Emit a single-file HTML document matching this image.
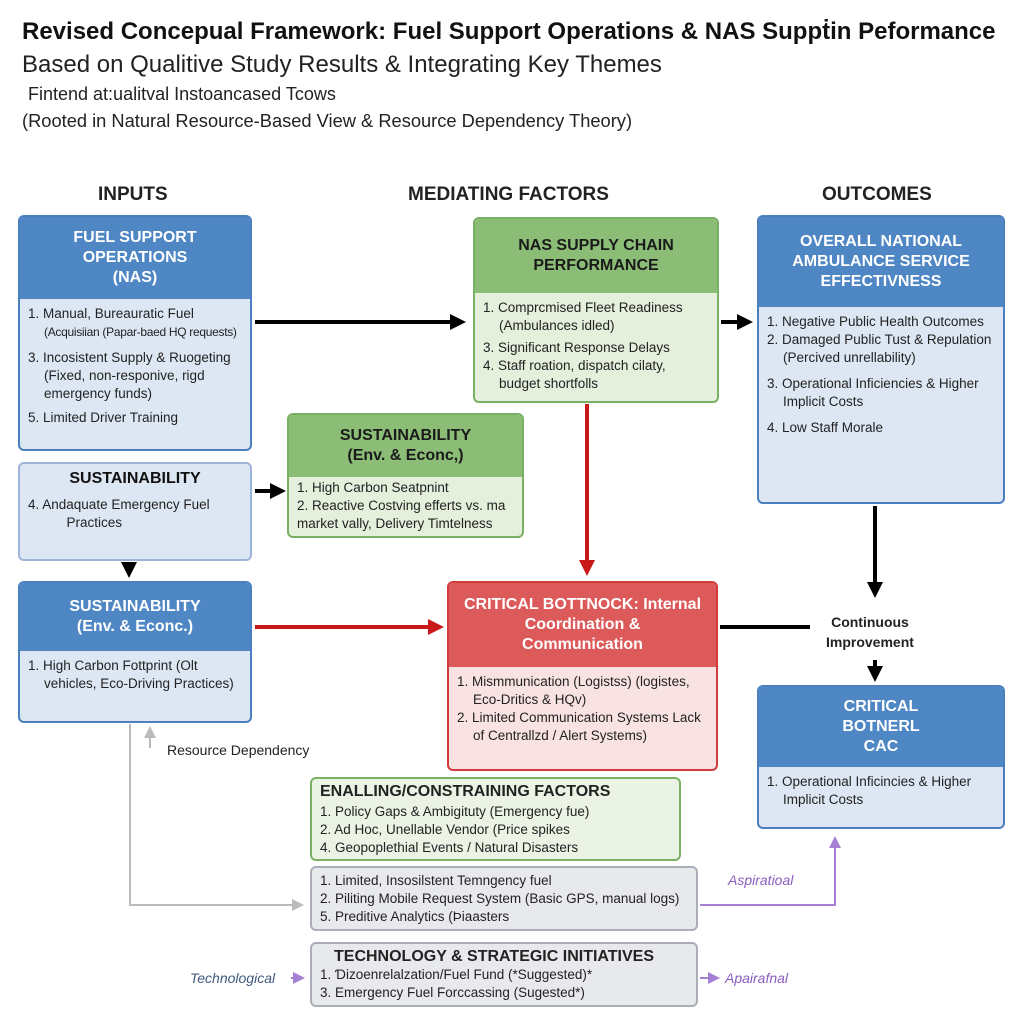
<!DOCTYPE html>
<html><head><meta charset="utf-8"><style>
*{box-sizing:border-box;margin:0;padding:0}
body{width:1024px;height:1024px;background:#fff;position:relative;overflow:hidden;font-family:"Liberation Sans",sans-serif;color:#222}
.a{position:absolute}
.box{position:absolute;border-radius:6px;overflow:hidden;border:2px solid #4a7fc0;background:#dde7f4}
.hd{text-align:center;font-weight:bold;font-size:16px;line-height:20px;display:flex;align-items:center;justify-content:center;flex-direction:column}
.blue .hd{background:#4f86c4;color:#fff}
.bd{font-size:13.5px;line-height:18px;padding:6px 8px}
.bd p{padding-left:16px;text-indent:-16px}
.green{border-color:#7ab063;background:#e4efdc}
.green .hd{background:#8cbd77;color:#1a1a1a}
.red{border-color:#d33c3c;background:#f9e2e2}
.red .hd{background:#dc5a5a;color:#fff}
.gray{border-color:#a9aeb8;background:#e8e9ed}
.col{font-weight:bold;font-size:19px}
</style></head><body>
<div class="a" style="left:22px;top:18px;font-size:24px;font-weight:bold;color:#111;white-space:nowrap">Revised Concepual Framework: Fuel Support Operations &amp; NAS Suppṫin Peformance</div>
<div class="a" style="left:22px;top:51px;font-size:24px;white-space:nowrap">Based on Qualitive Study Results &amp; Integrating Key Themes</div>
<div class="a" style="left:28px;top:84px;font-size:18px;white-space:nowrap">Fintend at:ualitval Instoancased Tcows</div>
<div class="a" style="left:22px;top:110px;font-size:18.3px;white-space:nowrap">(Rooted in Natural Resource-Based View &amp; Resource Dependency Theory)</div>

<div class="a col" style="left:98px;top:184px">INPUTS</div>
<div class="a col" style="left:408px;top:184px">MEDIATING FACTORS</div>
<div class="a col" style="left:822px;top:184px">OUTCOMES</div>

<div class="box blue" style="left:18px;top:215px;width:234px;height:236px">
<div class="hd" style="height:82px">FUEL SUPPORT<br>OPERATIONS<br>(NAS)</div>
<div class="bd"><p>1. Manual, Bureauratic Fuel<br><span style="font-size:12px;white-space:nowrap;letter-spacing:-0.3px">(Acquisiian (Papar-baed HQ requests)</span></p><p style="margin-top:8px">3. Incosistent Supply &amp; Ruogeting (Fixed, non-responive, rigd emergency funds)</p><p style="margin-top:6px">5. Limited Driver Training</p></div></div>

<div class="box" style="left:18px;top:462px;width:234px;height:99px;border-color:#9fb5d8">
<div class="hd" style="height:30px;color:#111">SUSTAINABILITY</div>
<div class="bd" style="padding-top:2px"><p>4. Andaquate Emergency Fuel<br>&nbsp;&nbsp;&nbsp;&nbsp;&nbsp;&nbsp;Practices</p></div></div>

<div class="box blue" style="left:18px;top:581px;width:234px;height:142px">
<div class="hd" style="height:68px">SUSTAINABILITY<br>(Env. &amp; Econc.)</div>
<div class="bd"><p>1. High Carbon Fottprint (Olt vehicles, Eco-Driving Practices)</p></div></div>

<div class="box green" style="left:473px;top:217px;width:246px;height:186px">
<div class="hd" style="height:74px">NAS SUPPLY CHAIN<br>PERFORMANCE</div>
<div class="bd"><p>1. Comprcmised Fleet Readiness (Ambulances idled)</p><p style="margin-top:4px">3. Significant Response Delays</p><p>4. Staff roation, dispatch cilaty, budget shortfolls</p></div></div>

<div class="box green" style="left:287px;top:413px;width:237px;height:125px">
<div class="hd" style="height:62px">SUSTAINABILITY<br>(Env. &amp; Econc,)</div>
<div class="bd" style="padding-top:2px"><p style="text-indent:0;padding-left:0">1. High Carbon Seatpnint<br>2. Reactive Costving efferts vs. ma market vally, Delivery Timtelness</p></div></div>

<div class="box red" style="left:447px;top:581px;width:271px;height:190px">
<div class="hd" style="height:84px">CRITICAL BOTTNOCK: Internal<br>Coordination &amp;<br>Communication</div>
<div class="bd"><p>1. Mismmunication (Logistss) (logistes, Eco-Dritics &amp; HQv)</p><p>2. Limited Communication Systems Lack of Centrallzd / Alert Systems)</p></div></div>

<div class="box blue" style="left:757px;top:215px;width:248px;height:289px">
<div class="hd" style="height:90px">OVERALL NATIONAL<br>AMBULANCE SERVICE<br>EFFECTIVNESS</div>
<div class="bd" style="padding-right:2px"><p>1. Negative Public Health Outcomes</p><p>2. Damaged Public Tust &amp; Repulation (Percived unrellability)</p><p style="margin-top:8px">3. Operational Inficiencies &amp; Higher Implicit Costs</p><p style="margin-top:8px">4. Low Staff Morale</p></div></div>

<div class="box blue" style="left:757px;top:685px;width:248px;height:144px">
<div class="hd" style="height:80px">CRITICAL<br>BOTNERL<br>CAC</div>
<div class="bd"><p>1. Operational Inficincies &amp; Higher Implicit Costs</p></div></div>

<div class="a" style="left:826px;top:612px;font-weight:bold;font-size:14px;text-align:center;line-height:20px">Continuous<br>Improvement</div>

<div class="box green" style="left:310px;top:777px;width:371px;height:84px;background:#eaf3e4">
<div class="bd" style="padding-top:4px"><div style="font-weight:bold;font-size:16px;margin-bottom:2px">ENALLING/CONSTRAINING FACTORS</div>1. Policy Gaps &amp; Ambigituty (Emergency fue)<br>2. Ad Hoc, Unellable Vendor (Price spikes<br>4. Geopoplethial Events / Natural Disasters</div></div>

<div class="box gray" style="left:310px;top:866px;width:388px;height:65px">
<div class="bd" style="padding-top:4px">1. Limited, Insosilstent Temngency fuel<br>2. Piliting Mobile Request System (Basic GPS, manual logs)<br>5. Preditive Analytics (Þiaasters</div></div>

<div class="box gray" style="left:310px;top:942px;width:388px;height:65px">
<div class="bd" style="padding-top:4px"><div style="font-weight:bold;font-size:16px;padding-left:14px">TECHNOLOGY &amp; STRATEGIC INITIATIVES</div>1. Ɗizoenrelalzation/Fuel Fund (*Suggested)*<br>3. Emergency Fuel Forccassing (Sugested*)</div></div>

<div class="a" style="left:167px;top:742px;font-size:14px">Resource Dependency</div>
<div class="a" style="left:728px;top:872px;font-size:14px;font-style:italic;color:#8a5cc0">Aspiratioal</div>
<div class="a" style="left:190px;top:970px;font-size:14px;font-style:italic;color:#3f5a80">Technological</div>
<div class="a" style="left:725px;top:970px;font-size:14px;font-style:italic;color:#8a5cc0">Apairafnal</div>

<svg class="a" style="left:0;top:0" width="1024" height="1024">
<defs>
<marker id="k" markerWidth="4" markerHeight="4" refX="2" refY="2" orient="auto"><path d="M0,0L4,2L0,4z" fill="#000"/></marker>
<marker id="r" markerWidth="4" markerHeight="4" refX="2" refY="2" orient="auto"><path d="M0,0L4,2L0,4z" fill="#c81818"/></marker>
<marker id="g" markerWidth="6" markerHeight="6" refX="3" refY="3" orient="auto"><path d="M0,0L6,3L0,6z" fill="#bbb"/></marker>
<marker id="p" markerWidth="6" markerHeight="6" refX="3" refY="3" orient="auto"><path d="M0,0L6,3L0,6z" fill="#a57fd4"/></marker>
</defs>
<g stroke="#000" stroke-width="4" fill="none">
<line x1="255" y1="322" x2="458" y2="322" marker-end="url(#k)"/>
<line x1="721" y1="322" x2="745" y2="322" marker-end="url(#k)"/>
<line x1="255" y1="491" x2="278" y2="491" marker-end="url(#k)"/>
<line x1="129" y1="562" x2="129" y2="570" marker-end="url(#k)"/>
<line x1="720" y1="627" x2="810" y2="627"/>
<line x1="875" y1="506" x2="875" y2="590" marker-end="url(#k)"/>
<line x1="875" y1="660" x2="875" y2="674" marker-end="url(#k)"/>
</g>
<g stroke="#c81818" stroke-width="4" fill="none">
<line x1="255" y1="627" x2="436" y2="627" marker-end="url(#r)"/>
<line x1="587" y1="404" x2="587" y2="568" marker-end="url(#r)"/>
</g>
<g stroke="#bbb" stroke-width="2" fill="none">
<polyline points="130,724 130,905 298,905" marker-end="url(#g)"/>
<line x1="150" y1="748" x2="150" y2="732" marker-end="url(#g)"/>
</g>
<g stroke="#a57fd4" stroke-width="2" fill="none">
<polyline points="700,905 835,905 835,842" marker-end="url(#p)"/>
<line x1="700" y1="978" x2="714" y2="978" marker-end="url(#p)"/>
<line x1="291" y1="978" x2="299" y2="978" marker-end="url(#p)"/>
</g>
</svg>
</body></html>
